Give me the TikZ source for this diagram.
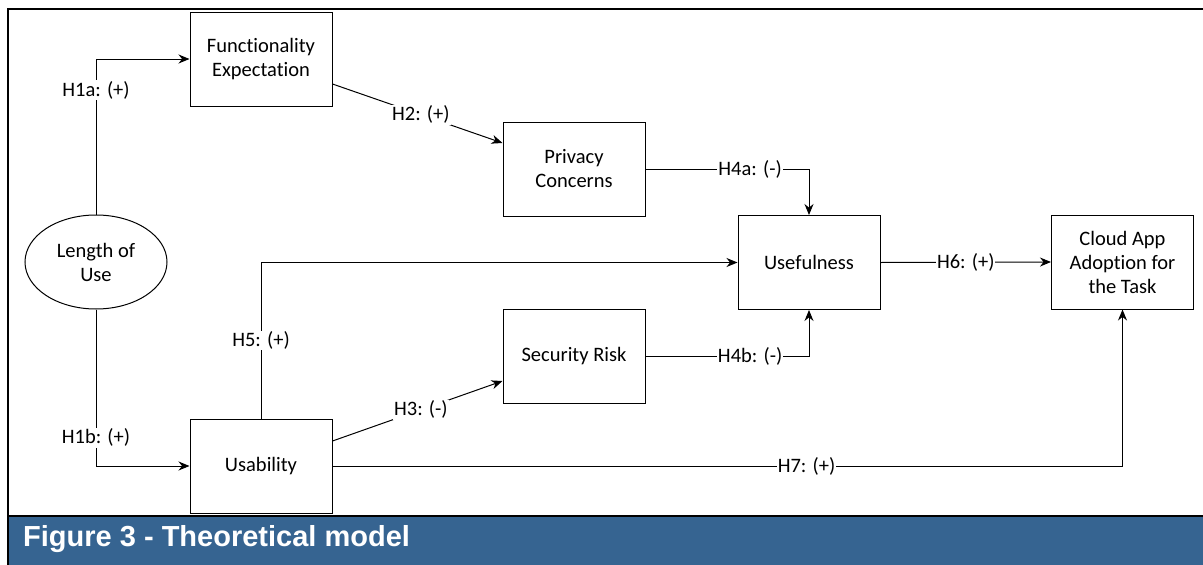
\documentclass[tikz,border=0pt]{standalone}
\usepackage{fontspec}
\setmainfont{Carlito}[Ligatures=NoCommon]
\newfontfamily\capfont{Liberation Sans}
\usetikzlibrary{arrows.meta,shapes.geometric,calc}
\definecolor{capblue}{RGB}{54,100,145}
\begin{document}
\begin{tikzpicture}[x=1pt,y=-1pt,
  box/.style={draw=black,line width=1pt,minimum width=142pt,minimum height=94pt,inner sep=0pt,align=center,font=\fontsize{20.5}{24}\selectfont},
  oval/.style={draw=black,line width=1pt,ellipse,minimum width=142pt,minimum height=94pt,inner sep=0pt,align=center,font=\fontsize{20.5}{24}\selectfont},
  conn/.style={draw=black,line width=1pt,-{Stealth[length=11pt,width=9pt]}},
  lab/.style={fill=white,inner sep=1pt,font=\fontsize{20.5}{24}\selectfont}]
\useasboundingbox (0,0) rectangle (1203,565);
% caption band and frame
\fill[capblue] (9,517) rectangle (1203,565);
\draw[line width=2.5pt] (1210,9) -- (8,9) -- (8,565);
\draw[line width=2.5pt] (8,516) -- (1210,516);
\node[anchor=base west,text=white,inner sep=0pt,font=\capfont\bfseries\fontsize{29}{34}\selectfont] (cap) at (23,546) {Figure 3 - Theoretical model};
% nodes
\node[oval] (lu) at (96,262) {Length of\\Use};
\node[box] (fe) at (261,59) {Functionality\\Expectation};
\node[box] (pc) at (574,169) {Privacy\\Concerns};
\node[box] (us) at (809,262.5) {Usefulness};
\node[box] (ca) at (1122.5,262) {Cloud App\\Adoption for\\the Task};
\node[box] (sr) at (574,356.5) {Security Risk};
\node[box] (ub) at (261,466) {Usability};
% connectors
\draw[conn] (lu.north) |- node[lab,pos=0.40] {H1a: (+)} (fe.west);
\draw[conn] (lu.south) |- node[lab,pos=0.41] {H1b: (+)} (ub.west);
\draw[conn] ($(fe.east)+(0,25)$) -- node[lab,pos=0.52] {H2: (+)} ($(pc.west)+(0,-26)$);
\draw[conn] ($(ub.east)+(0,-25)$) -- node[lab,pos=0.52] {H3: (-)} ($(sr.west)+(0,24.5)$);
\draw[conn] (pc.east) -| node[lab,pos=0.32] {H4a: (-)} (us.north);
\draw[conn] (sr.east) -| node[lab,pos=0.32] {H4b: (-)} (us.south);
\draw[conn] (ub.north) |- node[lab,pos=0.25] {H5: (+)} (us.west);
\draw[conn] (us.east) -- node[lab,pos=0.5] {H6: (+)} (ca.west);
\draw[conn] (ub.east) -| node[lab,pos=0.30] {H7: (+)} (ca.south);
\end{tikzpicture}
\end{document}
